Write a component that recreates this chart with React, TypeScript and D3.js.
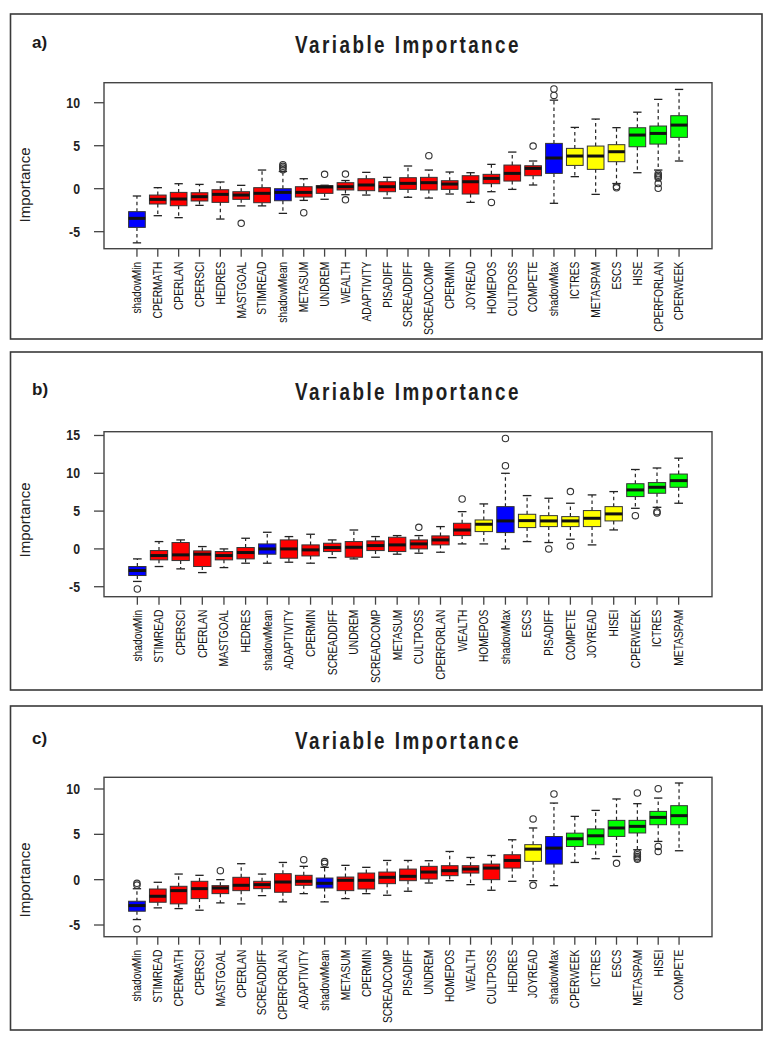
import * as d3 from "d3";

// [lower whisker, Q1, median, Q3, upper whisker]
type Stat = [number, number, number, number, number];

const groupColors: Record<string, string> = {
  S: "#0000ff", // shadow attributes
  R: "#ff0000", // rejected
  T: "#ffff00", // tentative
  C: "#00ff00", // confirmed
};

// ---- panel a ----
const labelsA = [
  "shadowMin", "CPERMATH", "CPERLAN", "CPERSCI", "HEDRES", "MASTGOAL", "STIMREAD",
  "shadowMean", "METASUM", "UNDREM", "WEALTH", "ADAPTIVITY", "PISADIFF", "SCREADDIFF",
  "SCREADCOMP", "CPERMIN", "JOYREAD", "HOMEPOS", "CULTPOSS", "COMPETE", "shadowMax",
  "ICTRES", "METASPAM", "ESCS", "HISE", "CPERFORLAN", "CPERWEEK",
];
const groupsA = "SRRRRRRSRRRRRRRRRRRRSTTTCCC".split("");
const statsA: Stat[] = [
  [-6.3, -4.5, -3.45, -2.67, -0.85],
  [-3.14, -1.78, -1.24, -0.74, 0.12],
  [-3.37, -1.98, -1.2, -0.43, 0.58],
  [-1.94, -1.43, -0.93, -0.47, 0.5],
  [-3.53, -1.59, -0.66, -0.12, 0.78],
  [-2.0, -1.24, -0.74, -0.35, 0.39],
  [-2.0, -1.63, -0.54, 0.12, 2.17],
  [-2.87, -1.4, -0.43, 0.0, 2.0],
  [-1.36, -0.97, -0.43, 0.23, 1.16],
  [-1.23, -0.54, 0.2, 0.35, 0.4],
  [-0.7, -0.15, 0.23, 0.7, 0.95],
  [-0.74, -0.23, 0.43, 1.16, 1.9],
  [-1.09, -0.35, 0.23, 0.81, 1.32],
  [-1.0, -0.08, 0.62, 1.28, 2.64],
  [-1.09, -0.15, 0.7, 1.32, 2.17],
  [-0.62, -0.08, 0.54, 0.93, 1.94],
  [-1.59, -0.62, 0.81, 1.51, 1.86],
  [-0.35, 0.58, 1.2, 1.67, 2.83],
  [-0.08, 0.89, 1.78, 2.75, 4.26],
  [0.43, 1.51, 2.36, 2.67, 3.22],
  [-1.7, 1.78, 3.57, 5.27, 10.3],
  [1.4, 2.71, 3.8, 4.69, 7.13],
  [-0.66, 2.25, 3.8, 4.96, 8.1],
  [0.6, 3.14, 4.3, 5.12, 7.1],
  [1.86, 4.88, 6.24, 7.09, 8.9],
  [2.17, 5.19, 6.43, 7.29, 10.39],
  [3.22, 5.97, 7.4, 8.49, 11.55],
];
const outliersA: number[][] = [
  [], [], [], [], [], [-4.03], [], [2.2, 2.4, 2.6, 2.8], [-2.8], [1.67], [1.7, -1.3],
  [], [], [], [3.84], [], [], [-1.6], [], [4.96], [10.85, 11.6], [], [], [0.25, 0.1],
  [], [1.75, 1.55, 1.4, 1.25, 0.6, 0.05], [],
];
const yTicksA = [-5, 0, 5, 10];

// ---- panel b ----
const labelsB = [
  "shadowMin", "STIMREAD", "CPERSCI", "CPERLAN", "MASTGOAL", "HEDRES", "shadowMean",
  "ADAPTIVITY", "CPERMIN", "SCREADDIFF", "UNDREM", "SCREADCOMP", "METASUM", "CULTPOSS",
  "CPERFORLAN", "WEALTH", "HOMEPOS", "shadowMax", "ESCS", "PISADIFF", "COMPETE",
  "JOYREAD", "HISEI", "CPERWEEK", "ICTRES", "METASPAM",
];
const groupsB = "SRRRRRSRRRRRRRRRTSTTTTTCCC".split("");
const statsB: Stat[] = [
  [-4.3, -3.52, -2.86, -2.33, -1.32],
  [-2.33, -1.45, -0.88, -0.22, 0.97],
  [-2.64, -1.54, -0.79, 0.84, 1.19],
  [-3.13, -2.33, -0.7, -0.26, 0.31],
  [-2.47, -1.45, -0.88, -0.35, 0.0],
  [-1.89, -1.32, -0.48, 0.18, 1.41],
  [-1.89, -0.7, 0.0, 0.66, 2.2],
  [-1.76, -1.23, 0.0, 1.19, 1.63],
  [-1.89, -0.93, -0.13, 0.53, 1.94],
  [-1.15, -0.35, 0.18, 0.75, 1.19],
  [-1.32, -1.1, 0.22, 0.97, 2.5],
  [-1.1, -0.22, 0.44, 1.06, 1.63],
  [-0.7, -0.35, 0.53, 1.54, 1.76],
  [-0.57, 0.0, 0.66, 1.19, 1.76],
  [-0.44, 0.53, 1.19, 1.72, 2.95],
  [0.66, 1.76, 2.5, 3.39, 4.93],
  [0.66, 2.29, 3.26, 3.83, 5.95],
  [0.0, 2.16, 3.7, 5.59, 10.0],
  [0.97, 2.82, 3.74, 4.58, 7.05],
  [0.84, 2.95, 3.7, 4.4, 6.7],
  [1.28, 2.95, 3.7, 4.27, 6.04],
  [0.53, 2.95, 4.05, 5.07, 7.14],
  [2.51, 3.7, 4.63, 5.59, 7.58],
  [5.37, 6.92, 7.8, 8.62, 10.5],
  [5.5, 7.36, 8.15, 8.77, 10.7],
  [6.04, 8.15, 9.03, 9.9, 12.0],
];
const outliersB: number[][] = [
  [-5.3], [], [], [], [], [], [], [], [], [], [], [], [], [2.86], [], [6.6], [],
  [11.0, 14.6], [], [0.0], [7.58, 0.4], [], [], [4.4], [4.93, 4.75], [],
];
const yTicksB = [-5, 0, 5, 10, 15];

// ---- panel c ----
const labelsC = [
  "shadowMin", "STIMREAD", "CPERMATH", "CPERSCI", "MASTGOAL", "CPERLAN", "SCREADDIFF",
  "CPERFORLAN", "ADAPTIVITY", "shadowMean", "METASUM", "CPERMIN", "SCREADCOMP",
  "PISADIFF", "UNDREM", "HOMEPOS", "WEALTH", "CULTPOSS", "HEDRES", "JOYREAD",
  "shadowMax", "CPERWEEK", "ICTRES", "ESCS", "METASPAM", "HISEI", "COMPETE",
];
const groupsC = "SRRRRRRRRSRRRRRRRRRTSCCCCCC".split("");
const statsC: Stat[] = [
  [-4.4, -3.48, -2.86, -2.38, -1.0],
  [-3.11, -2.49, -1.83, -1.03, -0.29],
  [-3.19, -2.67, -1.21, -0.73, 0.62],
  [-3.37, -2.09, -0.99, -0.18, 0.48],
  [-2.56, -1.54, -0.92, -0.66, 0.0],
  [-2.67, -1.21, -0.62, 0.26, 1.76],
  [-1.76, -0.99, -0.55, -0.18, 0.62],
  [-2.45, -1.39, -0.26, 0.66, 1.9],
  [-1.54, -0.62, -0.18, 0.48, 1.47],
  [-2.45, -0.92, -0.4, 0.18, 1.36],
  [-2.09, -1.21, -0.07, 0.29, 1.58],
  [-1.54, -1.03, -0.07, 0.73, 1.36],
  [-1.72, -0.44, 0.26, 0.84, 2.12],
  [-1.28, -0.11, 0.37, 1.17, 2.12],
  [-0.37, 0.07, 0.84, 1.47, 2.09],
  [-0.11, 0.44, 0.99, 1.54, 3.11],
  [-0.55, 0.73, 1.17, 1.54, 2.45],
  [-1.17, 0.0, 1.28, 1.72, 2.67],
  [-0.18, 1.28, 2.12, 2.75, 4.4],
  [-0.11, 2.02, 3.37, 3.86, 5.7],
  [-0.66, 1.72, 3.48, 4.76, 8.45],
  [1.9, 3.66, 4.51, 5.13, 6.98],
  [2.31, 3.85, 4.84, 5.6, 7.64],
  [2.56, 4.77, 5.7, 6.54, 8.9],
  [3.3, 5.15, 5.88, 6.54, 8.38],
  [4.22, 6.06, 6.87, 7.53, 9.0],
  [3.19, 6.06, 7.06, 8.16, 10.66],
];
const outliersC: number[][] = [
  [-0.4, -0.6, -5.45], [], [], [], [0.99], [], [], [], [2.2], [1.8, 2.0], [], [], [],
  [], [], [], [], [], [], [6.7, -0.62], [9.45], [], [], [1.8],
  [9.56, 2.95, 2.75, 2.55, 2.4, 2.25], [10.03, 3.67, 3.1], [],
];
const yTicksC = [-5, 0, 5, 10];

const WIDTH = 768;
const HEIGHT = 1037;
const PLOT_LEFT = 104;
const PLOT_RIGHT = 712;
const FRAME_LEFT = 10.5;
const FRAME_RIGHT = 762;
const FONT = "'Liberation Sans', Arial, sans-serif";
const NARROW = 0.82;

type PanelConfig = {
  tag: string;
  labels: string[];
  groups: string[];
  stats: Stat[];
  outliers: number[][];
  yTicks: number[];
  yDomain: [number, number];
  frameTop: number;
  frameBottom: number;
  titleY: number;
  plotTop: number;
  plotBottom: number;
  ylabY: number;
};

const panels: PanelConfig[] = [
  {
    tag: "a)", labels: labelsA, groups: groupsA, stats: statsA, outliers: outliersA,
    yTicks: yTicksA, yDomain: [-6.98, 12.33],
    frameTop: 14, frameBottom: 339, titleY: 53, plotTop: 82.7, plotBottom: 248.7, ylabY: 185,
  },
  {
    tag: "b)", labels: labelsB, groups: groupsB, stats: statsB, outliers: outliersB,
    yTicks: yTicksB, yDomain: [-6.32, 15.5],
    frameTop: 352, frameBottom: 690, titleY: 400, plotTop: 431.7, plotBottom: 596.7, ylabY: 520,
  },
  {
    tag: "c)", labels: labelsC, groups: groupsC, stats: statsC, outliers: outliersC,
    yTicks: yTicksC, yDomain: [-6.29, 11.29],
    frameTop: 706, frameBottom: 1030, titleY: 749, plotTop: 777.3, plotBottom: 936.7, ylabY: 880,
  },
];

function Panel({ cfg }: { cfg: PanelConfig }) {
  const n = cfg.labels.length;
  // R's boxplot x range: 0.5..n+0.5, widened by 4% on each side
  const x = d3
    .scaleLinear()
    .domain([0.5 - 0.04 * n, n + 0.5 + 0.04 * n])
    .range([PLOT_LEFT, PLOT_RIGHT]);
  const y = d3.scaleLinear().domain(cfg.yDomain).range([cfg.plotBottom, cfg.plotTop]);
  const unit = x(1) - x(0);
  const half = unit * 0.4;
  const staple = half * 0.5;
  const midX = (PLOT_LEFT + PLOT_RIGHT) / 2;

  return (
    <g>
      <rect
        x={FRAME_LEFT}
        y={cfg.frameTop}
        width={FRAME_RIGHT - FRAME_LEFT}
        height={cfg.frameBottom - cfg.frameTop}
        fill="#fff"
        stroke="#3a3a3a"
        strokeWidth={1.6}
      />
      <text x={32} y={cfg.titleY - 5} fontFamily={FONT} fontWeight="bold" fontSize={17} fill="#1a1a1a">
        {cfg.tag}
      </text>
      <text
        transform={`translate(${midX},${cfg.titleY}) scale(${NARROW},1)`}
        textAnchor="middle"
        fontFamily={FONT}
        fontWeight="bold"
        fontSize={23}
        letterSpacing={3}
        fill="#1e1e1e"
      >
        Variable Importance
      </text>
      <text
        transform={`translate(30,${cfg.ylabY}) rotate(-90)`}
        textAnchor="middle"
        fontFamily={FONT}
        fontSize={15}
        fill="#222"
      >
        Importance
      </text>

      {/* y axis */}
      {cfg.yTicks.map((t) => (
        <g key={t}>
          <line x1={PLOT_LEFT - 10} x2={PLOT_LEFT} y1={y(t)} y2={y(t)} stroke="#444" strokeWidth={1.3} />
          <text
            transform={`translate(${PLOT_LEFT - 24},${y(t)}) scale(${NARROW},1)`}
            textAnchor="end"
            dominantBaseline="central"
            fontFamily={FONT}
            fontWeight="bold"
            fontSize={15}
            fill="#222"
          >
            {t}
          </text>
        </g>
      ))}

      {/* x axis */}
      {cfg.labels.map((lab, i) => {
        const cx = x(i + 1);
        return (
          <g key={lab}>
            <line x1={cx} x2={cx} y1={cfg.plotBottom} y2={cfg.plotBottom + 8} stroke="#444" strokeWidth={1.3} />
            <text
              transform={`translate(${cx},${cfg.plotBottom + 13}) rotate(-90) scale(${NARROW},1)`}
              textAnchor="end"
              dominantBaseline="central"
              fontFamily={FONT}
              fontSize={12.5}
              fill="#111"
            >
              {lab}
            </text>
          </g>
        );
      })}

      {/* boxes */}
      {cfg.stats.map(([lo, q1, med, q3, hi], i) => {
        const cx = x(i + 1);
        return (
          <g key={cfg.labels[i]}>
            <line x1={cx} x2={cx} y1={y(q3)} y2={y(hi)} stroke="#222" strokeWidth={1.2} strokeDasharray="3.5,3" />
            <line x1={cx} x2={cx} y1={y(q1)} y2={y(lo)} stroke="#222" strokeWidth={1.2} strokeDasharray="3.5,3" />
            <line x1={cx - staple} x2={cx + staple} y1={y(hi)} y2={y(hi)} stroke="#222" strokeWidth={1.3} />
            <line x1={cx - staple} x2={cx + staple} y1={y(lo)} y2={y(lo)} stroke="#222" strokeWidth={1.3} />
            <rect
              x={cx - half}
              y={y(q3)}
              width={half * 2}
              height={y(q1) - y(q3)}
              fill={groupColors[cfg.groups[i]]}
              stroke="#333"
              strokeWidth={1}
            />
            <line x1={cx - half} x2={cx + half} y1={y(med)} y2={y(med)} stroke="#111" strokeWidth={3} />
            {cfg.outliers[i].map((v, k) => (
              <circle key={k} cx={cx} cy={y(v)} r={3.2} fill="none" stroke="#333" strokeWidth={1.1} />
            ))}
          </g>
        );
      })}

      <rect
        x={PLOT_LEFT}
        y={cfg.plotTop}
        width={PLOT_RIGHT - PLOT_LEFT}
        height={cfg.plotBottom - cfg.plotTop}
        fill="none"
        stroke="#444"
        strokeWidth={1.4}
      />
    </g>
  );
}

export default function App() {
  return (
    <svg
      width={WIDTH}
      height={HEIGHT}
      viewBox={`0 0 ${WIDTH} ${HEIGHT}`}
      style={{ position: "absolute", left: 0, top: 0, background: "#fff" }}
    >
      {panels.map((p) => (
        <Panel key={p.tag} cfg={p} />
      ))}
    </svg>
  );
}
